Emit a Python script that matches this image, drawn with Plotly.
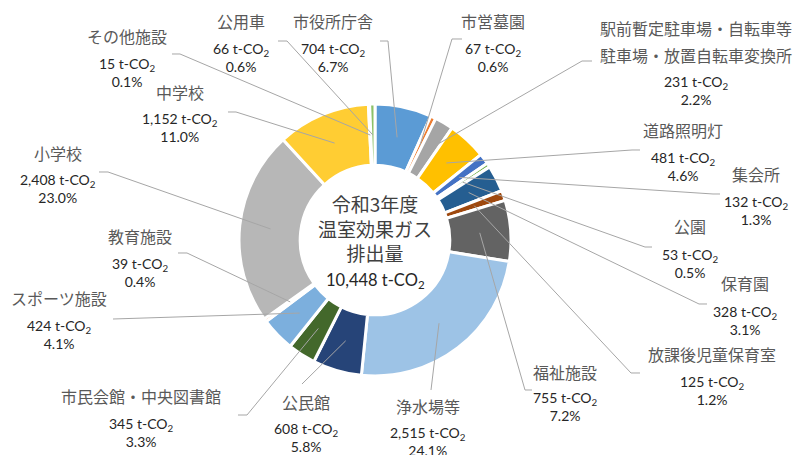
import math
import plotly.graph_objects as go

W, H = 795, 455

# ---- data ----
categories = ["市役所庁舎", "市営墓園", "駅前暫定駐車場・自転車等<br>駐車場・放置自転車変換所", "道路照明灯",
              "集会所", "公園", "保育園", "放課後児童保育室", "福祉施設", "浄水場等", "公民館",
              "市民会館・中央図書館", "スポーツ施設", "教育施設", "小学校", "中学校", "その他施設", "公用車"]
emissions = [704, 67, 231, 481, 132, 53, 328, 125, 755, 2515, 608, 345, 424, 39, 2408, 1152, 15, 66]
percents = ["6.7%", "0.6%", "2.2%", "4.6%", "1.3%", "0.5%", "3.1%", "1.2%", "7.2%", "24.1%", "5.8%",
            "3.3%", "4.1%", "0.4%", "23.0%", "11.0%", "0.1%", "0.6%"]
center_title = "令和3年度<br>温室効果ガス<br>排出量"
total_label = "10,448 t-CO<sub>2</sub>"

# ---- styles ----
colors = ["#5B9BD5", "#ED7D31", "#A5A5A5", "#FFC000", "#4472C4", "#70AD47", "#255E91", "#9E480E",
          "#636363", "#9DC3E6", "#264478", "#43682B", "#7CAFDD", "#F1975A", "#B7B7B7", "#FFCD33",
          "#698ED0", "#8CC168"]

# ---- layout positions (pixels) : name center (first line), value-block center, leader start, elbow ----
name_pos = [(333, 21), (493, 21), (696, 28), (683, 130), (756, 174), (690, 226), (745, 283), (712, 354),
            (565, 372), (428, 406), (306, 402), (141, 396), (59, 298), (140, 236), (58, 153), (180, 92),
            (127, 36), (241, 21)]
NAME_LINE_GAP = 27
value_pos = [(333, 57), (493, 57), (696, 91), (683, 166), (756, 210), (690, 263), (745, 320), (712, 390),
             (565, 406), (428, 441), (306, 437), (141, 432), (59, 334), (140, 272), (58, 188), (180, 127),
             (127, 72), (241, 57)]
leader_start = [(380, 41), (462, 39), (592, 61), (640, 150), (720, 194), (652, 247), (707, 304), (640, 373),
                (532, 390), (431, 390), (302, 384), (238, 415), (113, 319), (178, 253), (99, 172), (228, 112),
                (172, 54), (278, 41)]
leader_elbow = [(388, 41), (452, 39), (582, 61), (632, 150), (713, 194), (645, 247), (699, 304), (631, 373),
                (525, 390), None, None, (247, 415), None, (187, 253), (108, 172), (236, 112),
                (180, 54), (287, 41)]

CX, CY, R = 375, 240, 136
HOLE = 0.55
R_ANCHOR = 105


def px(x):
    return x / W


def py(y):
    return 1 - y / H


fig = go.Figure(go.Pie(
    labels=categories,
    values=emissions,
    sort=False,
    direction="clockwise",
    rotation=0,
    hole=HOLE,
    textinfo="none",
    hoverinfo="label+value",
    marker=dict(colors=colors, line=dict(color="white", width=3)),
    domain=dict(x=[px(CX - R), px(CX + R)], y=[py(CY + R), py(CY - R)]),
    showlegend=False,
))

total = sum(emissions)
annotations = []
shapes = []
cum = 0
LAB_FONT = "Noto Sans CJK JP"
NUM_FONT = "Lato, Noto Sans CJK JP"
for i, v in enumerate(emissions):
    mid = (cum + v / 2) / total
    cum += v
    ang = 2 * math.pi * mid
    ax = CX + R_ANCHOR * math.sin(ang)
    ay = CY - R_ANCHOR * math.cos(ang)
    pts = [leader_start[i]]
    if leader_elbow[i] is not None:
        pts.append(leader_elbow[i])
    pts.append((ax, ay))
    path = "M " + " L ".join(f"{px(x):.5f},{py(y):.5f}" for x, y in pts)
    shapes.append(dict(type="path", path=path, xref="paper", yref="paper",
                       line=dict(color="#A6A6A6", width=1)))

    nx, ny = name_pos[i]
    for k, line in enumerate(categories[i].split("<br>")):
        annotations.append(dict(x=px(nx), y=py(ny + k * NAME_LINE_GAP), xref="paper", yref="paper",
                                showarrow=False, text=line, xanchor="center", yanchor="middle",
                                font=dict(family=LAB_FONT, size=16, color="#595959")))
    vx, vy = value_pos[i]
    annotations.append(dict(x=px(vx), y=py(vy), xref="paper", yref="paper", showarrow=False,
                            text=f"{v:,} t-CO<sub>2</sub><br>{percents[i]}", xanchor="center",
                            yanchor="middle", align="center",
                            font=dict(family=NUM_FONT, size=14, color="#262626")))

annotations.append(dict(x=px(CX), y=py(228), xref="paper", yref="paper", showarrow=False,
                        text=center_title, xanchor="center", yanchor="middle", align="center",
                        font=dict(family=LAB_FONT, size=19, color="#404040")))
annotations.append(dict(x=px(CX), y=py(280), xref="paper", yref="paper", showarrow=False,
                        text=total_label, xanchor="center", yanchor="middle",
                        font=dict(family=NUM_FONT, size=16.5, color="#262626")))

fig.update_layout(width=W, height=H, margin=dict(l=0, r=0, t=0, b=0),
                  paper_bgcolor="white", plot_bgcolor="white",
                  annotations=annotations, shapes=shapes)

fig.write_html("out.html", config={"displayModeBar": False},
               post_script="document.body.style.margin='0';")
